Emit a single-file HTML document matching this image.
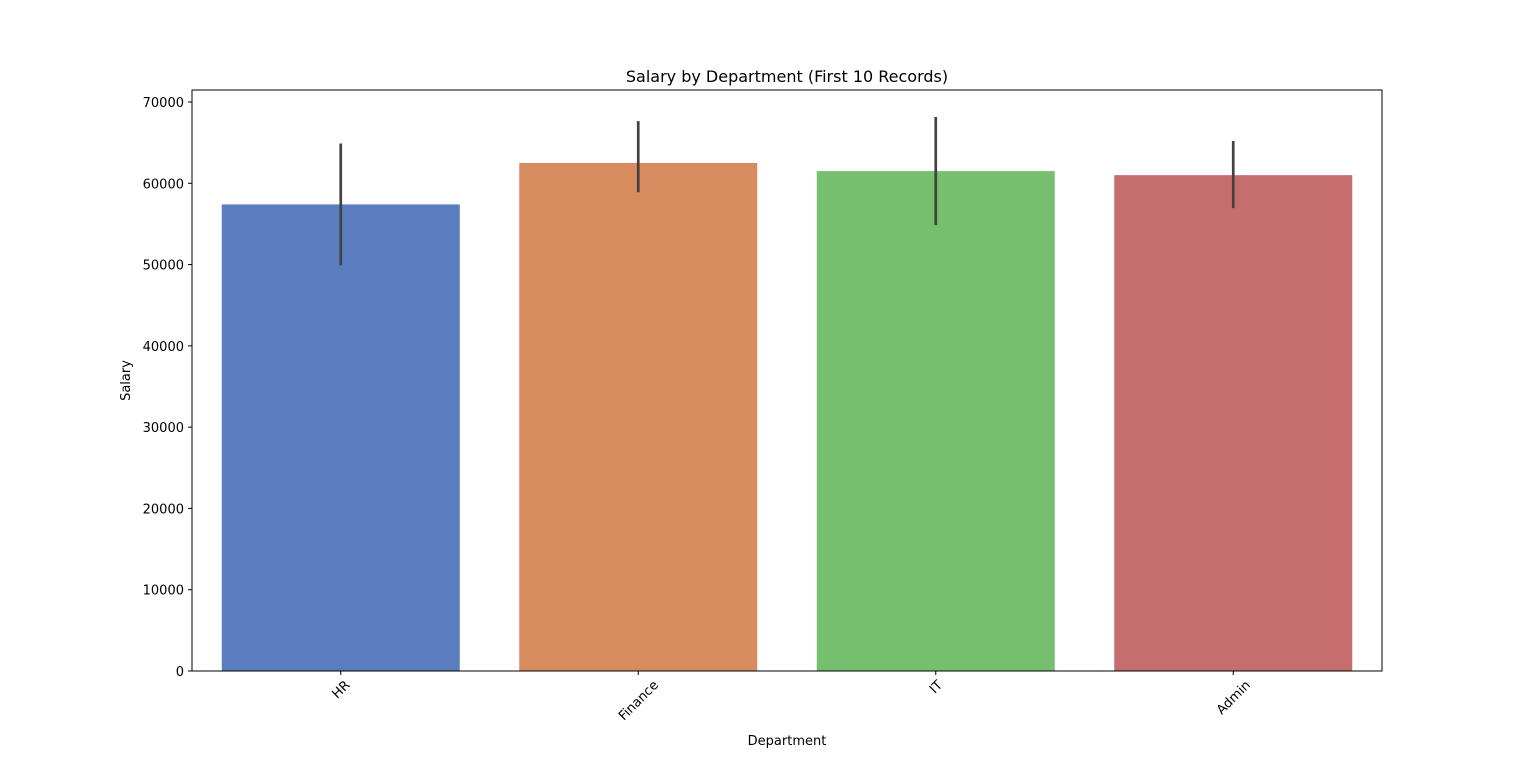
<!DOCTYPE html>
<html><head><meta charset="utf-8"><style>
body{margin:0;background:#fff;font-family:"Liberation Sans","DejaVu Sans",sans-serif;}
svg text{font-family:"DejaVu Sans","Liberation Sans",sans-serif;fill:#000;}
</style></head><body>
<svg id="chart" width="1536" height="754" xmlns="http://www.w3.org/2000/svg">
<rect width="1536" height="754" fill="#fff"/>
<g id="bars"></g><g id="errs"></g><g id="axes"></g>
</svg>
<script>
const categories=["HR","Finance","IT","Admin"];
const salaries=[57400,62500,61500,61000];
const ciLow=[49900,58900,54850,56950];
const ciHigh=[64900,67650,68150,65200];
const colors=["#5a7dbf","#d88b5f","#76bf6f","#c56e6d"];
const yTicks=[0,10000,20000,30000,40000,50000,60000,70000];
const L=192,R=1382,T=90,B=671,yMax=70000,y70=102;
const NS="http://www.w3.org/2000/svg";
function y(v){return B-(B-y70)*v/yMax;}
const step=(R-L)/categories.length;
function x(i){return L+step*(i+0.5);}
function el(tag,attrs,parent,txt){const e=document.createElementNS(NS,tag);for(const k in attrs)e.setAttribute(k,attrs[k]);if(txt!==undefined)e.textContent=txt;document.getElementById(parent).appendChild(e);return e;}
categories.forEach((c,i)=>{
 const w=step*0.8;
 const b=el("rect",{x:x(i)-w/2,y:y(salaries[i]),width:w,height:B-y(salaries[i]),fill:colors[i]},"bars");
 
 
 const e=el("line",{x1:x(i),x2:x(i),y1:y(ciHigh[i]),y2:y(ciLow[i]),stroke:"#424242","stroke-width":2.7},"errs");
 
 
 el("line",{x1:x(i),x2:x(i),y1:B,y2:B+4,stroke:"#000","stroke-width":1},"axes");
 const t=el("text",{x:0,y:0,"font-size":13,"text-anchor":"middle"},"axes",c);
 
 
 const tw=t.getComputedTextLength();
 const bh=(tw+13)*0.7071;
 t.setAttribute("transform",`translate(${x(i)},${B+7+bh/2}) rotate(-45) translate(0,4.5)`);
});
yTicks.forEach(v=>{
 el("line",{x1:L-4,x2:L,y1:y(v),y2:y(v),stroke:"#000","stroke-width":1},"axes");
 const t=el("text",{x:L-8,y:y(v)+5,"font-size":13,"text-anchor":"end"},"axes",String(v));
 
 
});
const f=el("rect",{x:L,y:T,width:R-L,height:B-T,fill:"none",stroke:"#000","stroke-width":1},"axes");


const tt=el("text",{x:(L+R)/2,y:82,"font-size":16,"text-anchor":"middle"},"axes","Salary by Department (First 10 Records)");


const xt=el("text",{x:(L+R)/2,y:745,"font-size":13,"text-anchor":"middle"},"axes","Department");


const yt=el("text",{x:0,y:0,"font-size":13,"text-anchor":"middle",transform:`translate(130,${(T+B)/2}) rotate(-90)`},"axes","Salary");


</script>
</body></html>
